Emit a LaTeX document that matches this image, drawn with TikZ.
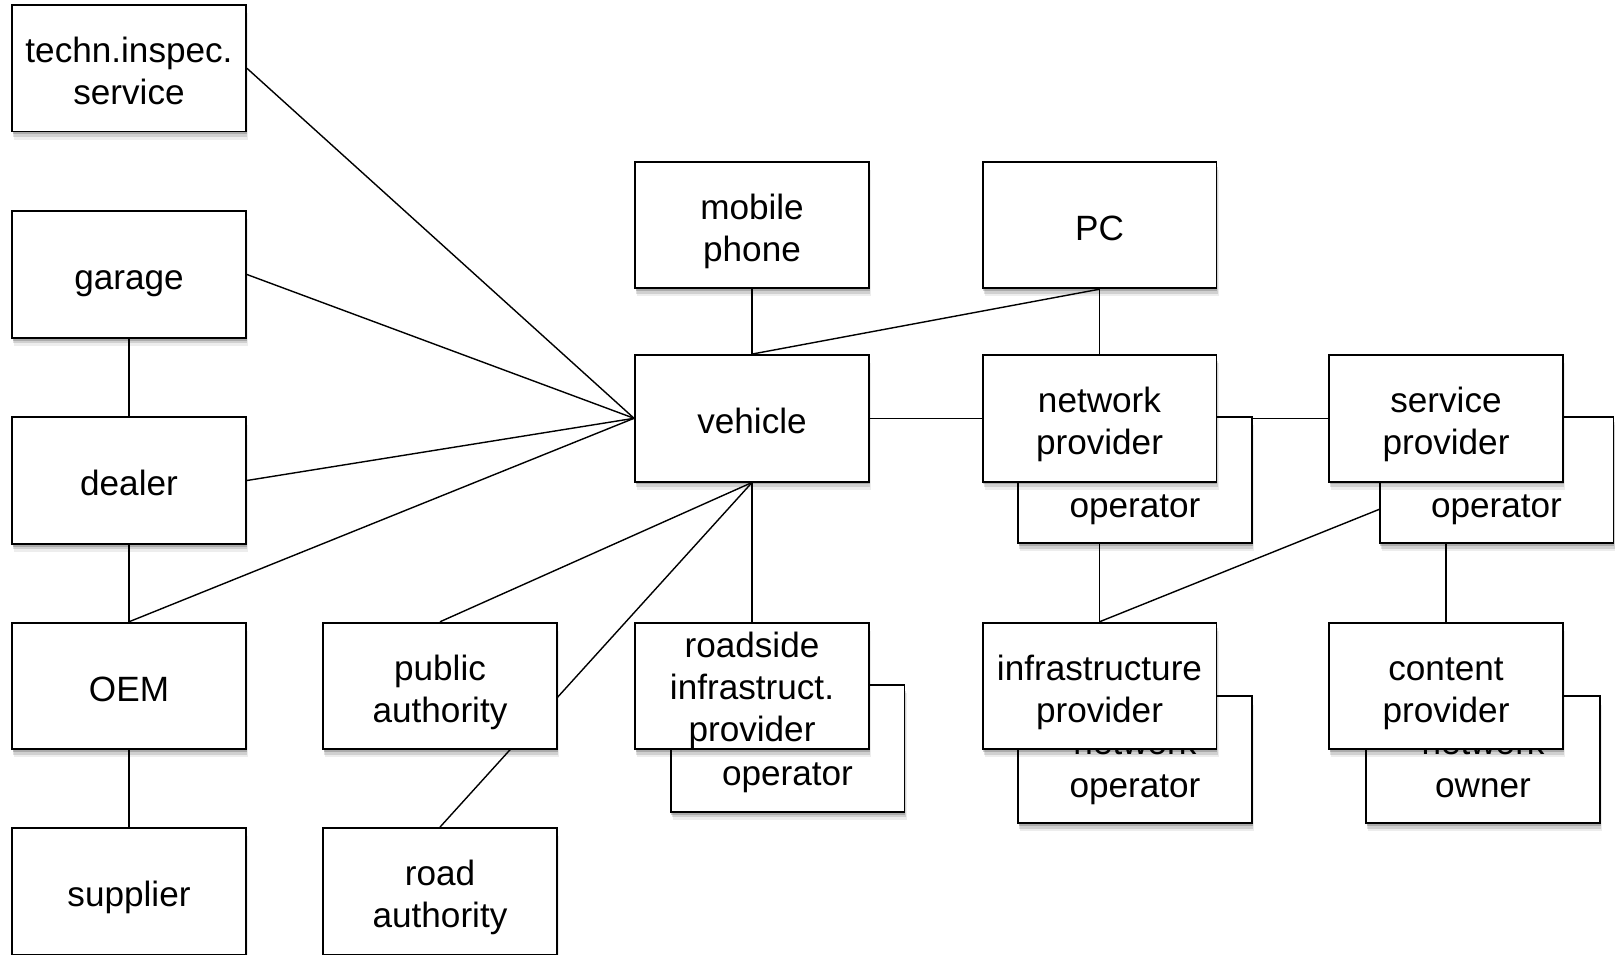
\documentclass[tikz,border=0pt]{standalone}
\usepackage{fontspec}
\setmainfont{Liberation Sans}
\usetikzlibrary{shadows}
\pgfdeclarelayer{background}
\pgfsetlayers{background,main}
\newcommand{\tsx}{\rule{0pt}{22.5pt}}
\newcommand{\tsr}{\rule{0pt}{19.5pt}}
\newcommand{\tbx}{\rule{0pt}{23.5pt}}
\newcommand{\bsx}{\rule[-5pt]{0pt}{5pt}}
\tikzset{
  box/.style={draw=black, line width=1.1pt, fill=white,
    minimum width=4.68cm, minimum height=2.53cm, inner sep=0pt,
    align=center, font=\fontsize{20}{24}\selectfont,
    drop shadow={shadow xshift=0.4pt, shadow yshift=-1.6pt, opacity=0.18, fill=black},
    drop shadow={shadow xshift=0.8pt, shadow yshift=-3.2pt, opacity=0.12, fill=black},
    drop shadow={shadow xshift=1.2pt, shadow yshift=-4.6pt, opacity=0.07, fill=black}},
  link/.style={draw=black, line width=0.8pt}
}
\begin{document}
\begin{tikzpicture}[x=0.02cm,y=-0.02cm]
\useasboundingbox (0,0) rectangle (1615,955);
% back boxes
\node[box] (netop)   at (1135,480)   {\tbx\\operator\bsx};
\node[box] (servop)  at (1496.5,480) {\tbx\\operator\bsx};
\node[box] (roadop)  at (787.5,748.5){\tbx\\operator\bsx};
\node[box] (infraop) at (1135,759.7) {\tbx network\\operator\bsx};
\node[box] (contown) at (1483,759.7) {\tbx network\\owner\bsx};
% front boxes
\node[box] (techn)    at (129,68.3)   {\tsx techn.inspec.\\service\bsx};
\node[box] (garage)   at (129,274.5)  {\tsx garage\bsx};
\node[box] (dealer)   at (129,480.5)  {\tsx dealer\bsx};
\node[box] (oem)      at (129,686)    {\tsx OEM\bsx};
\node[box] (supplier) at (129,891.3)  {\tsx supplier\bsx};
\node[box] (public)   at (440,686)    {\tsx public\\authority\bsx};
\node[box] (road)     at (440,891.3)  {\tsx road\\authority\bsx};
\node[box] (mobile)   at (752,225)    {\tsx mobile\\phone\bsx};
\node[box] (vehicle)  at (752,418.3)  {\tsx vehicle\bsx};
\node[box] (roadside) at (752,686)    {\tsr roadside\\infrastruct.\\provider};
\node[box] (pc)       at (1099.5,225) {\tsx PC\bsx};
\node[box] (network)  at (1099.5,418.3) {\tsx network\\provider\bsx};
\node[box] (infra)    at (1099.5,686)   {\tsx infrastructure\\provider\bsx};
\node[box] (service)  at (1446,418.3)   {\tsx service\\provider\bsx};
\node[box] (content)  at (1446,686)     {\tsx content\\provider\bsx};
\begin{pgfonlayer}{background}
\draw[link] (techn.east) -- (vehicle.west);
\draw[link] (garage.east) -- (vehicle.west);
\draw[link] (dealer.east) -- (vehicle.west);
\draw[link] (oem.north) -- (vehicle.west);
\draw[link] (garage.south) -- (dealer.north);
\draw[link] (dealer.south) -- (oem.north);
\draw[link] (oem.south) -- (supplier.north);
\draw[link] (public.north) -- (vehicle.south);
\draw[link] (road.north) -- (vehicle.south);
\draw[link] (roadside.north) -- (vehicle.south);
\draw[link] (mobile.south) -- (vehicle.north);
\draw[link] (vehicle.north) -- (pc.south);
\draw[link] (pc.south) -- (network.north);
\draw[link] (vehicle.east) -- (network.west);
\draw[link] (network.east) -- (service.west);
\draw[link] (network.south) -- (infra.north);
\draw[link] (infra.north) -- (service.south);
\draw[link] (service.south) -- (content.north);
\end{pgfonlayer}
\end{tikzpicture}
\end{document}
